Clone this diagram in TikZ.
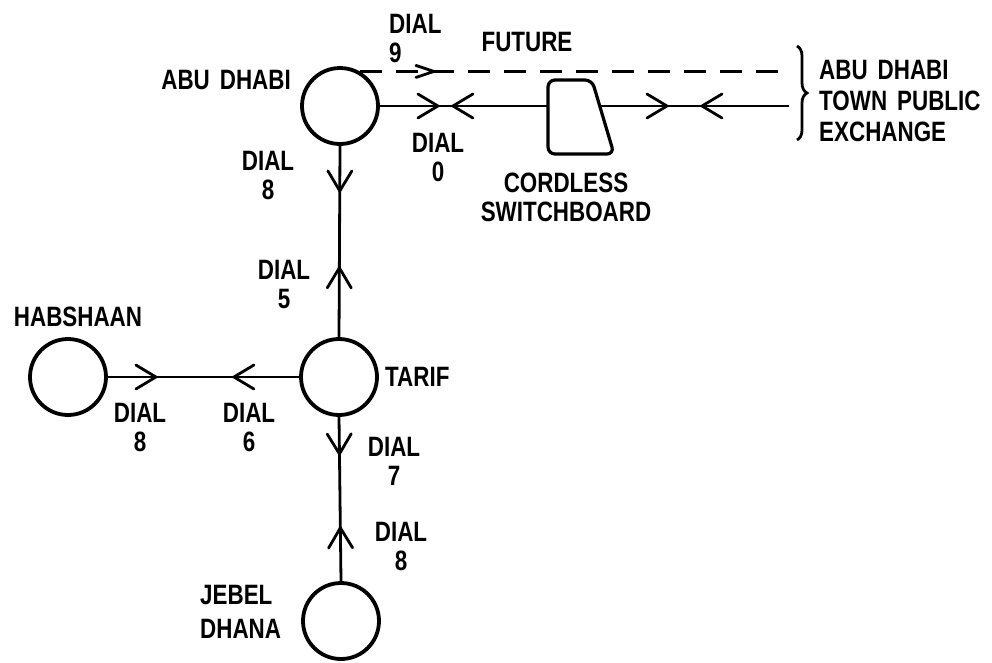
\documentclass[tikz,border=0pt]{standalone}
\usepackage{fontspec}
\setmainfont{Liberation Sans}[FakeStretch=0.8,WordSpace=1.6]
\usetikzlibrary{decorations.markings,decorations.pathreplacing}
\tikzset{
  stn/.style={circle,draw,line width=3.8pt,minimum size=76pt,inner sep=0pt},
  lbl/.style={font=\fontsize{28}{29}\bfseries\selectfont,inner sep=0pt,align=center},
  wire/.style={line width=2.8pt},
  fwd/.style={postaction={decorate,decoration={markings,mark=at position #1 with {\draw[solid,line width=2.8pt,line cap=round] (-20pt,-12pt)--(0pt,0pt)--(-20pt,12pt);}}}},
  bwd/.style={postaction={decorate,decoration={markings,mark=at position #1 with {\draw[solid,line width=2.8pt,line cap=round] (20pt,-12pt)--(0pt,0pt)--(20pt,12pt);}}}},
  fwdflat/.style={postaction={decorate,decoration={markings,mark=at position #1 with {\draw[solid,line width=2.8pt,line cap=round] (-18pt,-6pt)--(0pt,0pt)--(-18pt,6pt);}}}},
}
\begin{document}
\begin{tikzpicture}[x=1pt,y=-1pt]
\useasboundingbox (0,0) rectangle (992,662);
% stations
\node[stn] (AD) at (340,106) {};
\node[stn] (TA) at (339,377) {};
\node[stn] (HB) at (68,377) {};
\node[stn] (JD) at (341,621) {};
% switchboard
\coordinate (sbW) at (548,106);
\coordinate (sbE) at (600,106);
\coordinate (tpe) at (789,106);
\coordinate (tpeT) at (789,71);
\draw[wire,line width=3.2pt,rounded corners=7] (548,154) -- (548,80) -- (592,80) -- (614,154) -- cycle;
% connectors
\draw[wire,fwd=58pt,bwd=73pt] (AD.east) -- (sbW);
\draw[wire,fwd=67pt,bwd=102pt] (sbE) -- (tpe);
\draw[wire,dash pattern=on 22pt off 14pt,fwdflat=74pt] (AD.60) -- (AD.60 -| tpeT);
\draw[wire,fwd=45pt,bwd=122pt] (AD.south) -- (TA.north);
\draw[wire,fwd=48pt,bwd=126pt] (HB.east) -- (TA.west);
\draw[wire,fwd=37pt,bwd=111pt] (TA.south) -- (JD.north);
% brace
\coordinate (br1) at (797,46);
\coordinate (br2) at (797,140);
\draw[wire,decorate,decoration={brace,amplitude=10pt}] (br1) -- (br2);
% labels
\node[lbl,anchor=east] (lAD) at (291,80) {ABU DHABI};
\node[lbl,align=left,anchor=west] (l9) at (389,39) {DIAL\\9};
\node[lbl] (lfut) at (527,42) {FUTURE};
\node[lbl] (l0) at (438,157) {DIAL\\0};
\node[lbl] (lsb) at (566,197) {CORDLESS\\SWITCHBOARD};
\node[lbl,align=left,anchor=west,font=\fontsize{28}{31}\bfseries\selectfont] (ltpe) at (819,101) {ABU DHABI\\TOWN PUBLIC\\EXCHANGE};
\node[lbl] (l8a) at (268,175) {DIAL\\8};
\node[lbl] (l5) at (284,284) {DIAL\\5};
\node[lbl,anchor=west] (lTA) at (385,377) {TARIF};
\node[lbl] (lHB) at (78,317) {HABSHAAN};
\node[lbl] (l8b) at (140,427) {DIAL\\8};
\node[lbl] (l6) at (249,427) {DIAL\\6};
\node[lbl] (l7) at (394,461) {DIAL\\7};
\node[lbl] (l8c) at (401,546) {DIAL\\8};
\node[lbl,align=left,anchor=west,font=\fontsize{28}{34}\bfseries\selectfont] (lJD) at (200,612) {JEBEL\\DHANA};
\end{tikzpicture}
\end{document}
